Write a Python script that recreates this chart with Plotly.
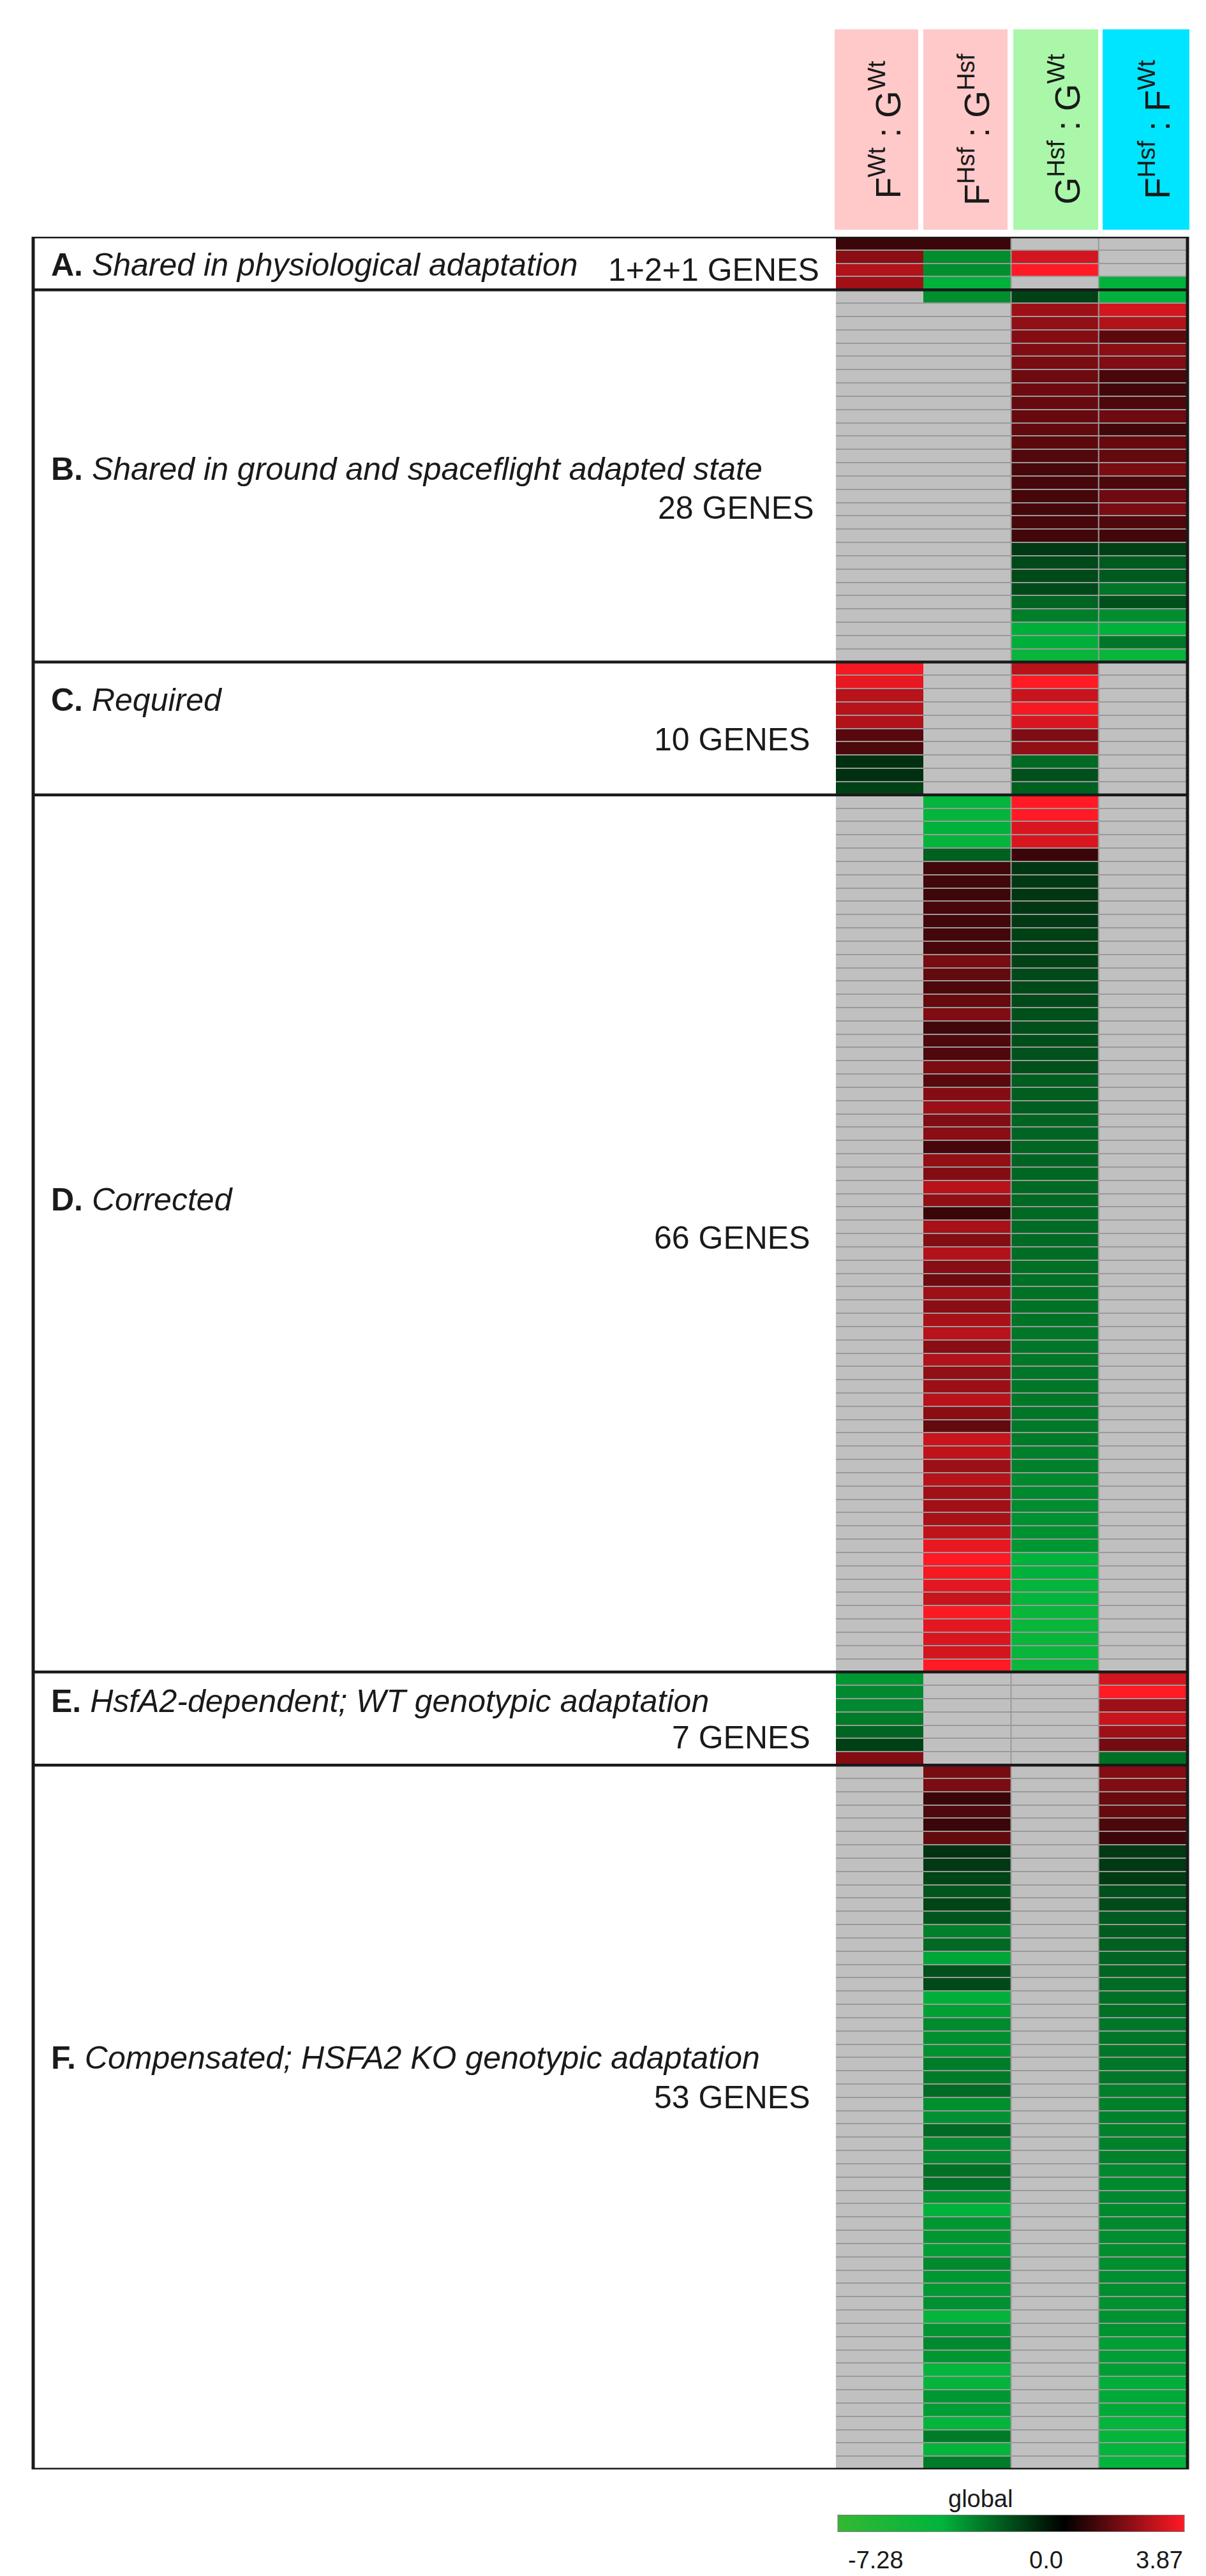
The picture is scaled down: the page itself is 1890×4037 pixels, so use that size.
import plotly.graph_objects as go

W, H = 1890, 4037

# column headers (contrasts)
col_labels = ["F<sup>Wt</sup> : G<sup>Wt</sup>",
              "F<sup>Hsf</sup> : G<sup>Hsf</sup>",
              "G<sup>Hsf</sup> : G<sup>Wt</sup>",
              "F<sup>Hsf</sup> : F<sup>Wt</sup>"]

# section labels
sec_letters = ["A.", "B.", "C.", "D.", "E.", "F."]
sec_titles = ["Shared in physiological adaptation",
              "Shared in ground and spaceflight adapted state",
              "Required",
              "Corrected",
              "HsfA2-dependent; WT genotypic adaptation",
              "Compensated; HSFA2 KO genotypic adaptation"]
sec_counts = ["1+2+1 GENES", "28 GENES", "10 GENES", "66 GENES", "7 GENES", "53 GENES"]

# log2 fold change per section, one list per column (None = not significant / grey)
a_fwt_gwt = [0.9, 2.1, 2.7, 2.45]
a_fhsf_ghsf = [0.9, -3.1, -3.1, -3.9]
a_ghsf_gwt = [None, 3.2, 3.87, None]
a_fhsf_fwt = [None, None, None, -3.9]

b_fwt_gwt = [None] * 28
b_fhsf_ghsf = [-3.1] + [None] * 27
b_ghsf_gwt = [-1.4, 2.4, 2.2, 2.0, 1.95, 1.85, 1.65, 1.65, 1.55, 1.55, 1.5, 1.4, 1.25, 1.1,
              1.1, 1.05, 1.05, 1.1, 1.0, -1.25, -1.6, -1.6, -1.62, -2.2, -2.75, -3.8, -3.8, -4.5]
b_fhsf_fwt = [-3.9, 3.2, 2.7, 1.4, 2.1, 1.95, 1.1, 1.0, 1.15, 1.65, 1.0, 1.55, 1.5, 1.85,
              1.15, 1.65, 1.85, 1.2, 1.0, -1.4, -2.0, -1.95, -2.6, -1.75, -3.1, -3.9, -2.6, -4.5]

c_fwt_gwt = [3.7, 3.5, 2.8, 2.8, 2.7, 1.35, 1.15, -1.05, -1.05, -1.4]
c_fhsf_ghsf = [None] * 10
c_ghsf_gwt = [2.8, 3.87, 3.05, 3.7, 3.3, 1.95, 2.2, -2.3, -1.75, -2.1]
c_fhsf_fwt = [None] * 10

d_fwt_gwt = [None] * 66
d_fhsf_ghsf = [-4.2, -4.2, -3.9, -4.2, -2.1, 1.0, 1.0, 0.95, 1.1, 1.0, 1.0, 1.1, 1.8, 1.5,
               1.15, 1.55, 1.95, 1.0, 1.2, 1.2, 1.85, 1.35, 2.0, 2.35, 1.95, 2.1, 1.05, 2.2,
               2.0, 2.8, 2.2, 0.9, 2.55, 2.0, 2.7, 2.05, 1.65, 2.4, 2.1, 2.55, 2.8, 2.1, 2.7,
               2.2, 2.35, 2.8, 2.1, 1.5, 3.05, 2.9, 2.35, 2.8, 2.45, 2.45, 2.55, 2.9, 3.5,
               3.87, 3.7, 3.45, 3.05, 3.8, 3.45, 3.3, 3.2, 3.87]
d_ghsf_gwt = [3.87, 3.87, 3.3, 3.3, 0.9, -1.2, -1.22, -1.18, -1.2, -1.25, -1.4, -1.4, -1.42,
              -1.6, -1.6, -1.62, -1.75, -1.75, -1.72, -1.78, -1.75, -2.05, -2.05, -2.08, -2.2,
              -2.2, -2.22, -2.2, -2.25, -2.3, -2.3, -2.32, -2.35, -2.35, -2.38, -2.45, -2.45,
              -2.5, -2.5, -2.52, -2.6, -2.6, -2.62, -2.6, -2.6, -2.62, -2.6, -2.65, -2.7, -2.8,
              -2.8, -3.0, -3.0, -3.05, -3.2, -3.2, -3.3, -3.9, -3.9, -4.2, -4.2, -4.5, -4.5,
              -4.5, -4.5, -4.8]
d_fhsf_fwt = [None] * 66

e_fwt_gwt = [-3.3, -3.0, -3.0, -2.7, -2.2, -1.4, 2.0]
e_fhsf_ghsf = [None] * 7
e_ghsf_gwt = [None] * 7
e_fhsf_fwt = [3.2, 3.87, 2.4, 3.05, 2.4, 1.75, -2.45]

f_fwt_gwt = [None] * 53
f_fhsf_ghsf = [1.8, 1.85, 0.9, 1.2, 0.9, 1.5, -1.1, -1.25, -1.5, -1.85, -1.5, -1.85, -2.8,
               -2.3, -3.6, -1.75, -1.6, -3.8, -3.5, -3.0, -3.15, -3.2, -2.7, -2.7, -2.35, -3.1,
               -3.2, -2.3, -3.0, -3.0, -2.45, -2.45, -3.3, -3.9, -3.3, -3.3, -3.45, -3.0, -3.3,
               -3.35, -3.2, -4.2, -3.3, -3.0, -3.3, -4.2, -4.2, -3.3, -3.45, -4.2, -2.7, -4.2,
               -2.7]
f_ghsf_gwt = [None] * 53
f_fhsf_fwt = [2.0, 1.95, 1.6, 1.55, 1.15, 0.95, -1.25, -1.25, -1.3, -1.75, -1.65, -2.0, -2.0,
              -2.1, -2.2, -2.2, -2.35, -2.45, -2.45, -2.6, -2.6, -2.6, -2.6, -2.62, -2.8, -2.8,
              -2.82, -2.85, -2.85, -2.85, -3.0, -3.0, -3.0, -3.02, -3.0, -3.1, -3.1, -3.1, -3.12,
              -3.1, -3.2, -3.2, -3.22, -3.45, -3.45, -3.45, -3.8, -3.7, -3.7, -4.2, -4.2, -4.2,
              -4.2]

sections = [
    (a_fwt_gwt, a_fhsf_ghsf, a_ghsf_gwt, a_fhsf_fwt),
    (b_fwt_gwt, b_fhsf_ghsf, b_ghsf_gwt, b_fhsf_fwt),
    (c_fwt_gwt, c_fhsf_ghsf, c_ghsf_gwt, c_fhsf_fwt),
    (d_fwt_gwt, d_fhsf_ghsf, d_ghsf_gwt, d_fhsf_fwt),
    (e_fwt_gwt, e_fhsf_ghsf, e_ghsf_gwt, e_fhsf_fwt),
    (f_fwt_gwt, f_fhsf_ghsf, f_ghsf_gwt, f_fhsf_fwt),
]

zmin, zmax = -7.28, 3.87


def px_x(x):
    return x / W


def px_y(y):
    return 1 - y / H


# build matrix
z = []
sec_sizes = []
for cols in sections:
    sec_sizes.append(len(cols[0]))
    for row in zip(*cols):
        z.append(list(row))
n_rows = len(z)
bg = [[0] * 4 for _ in z]

zero = (0 - zmin) / (zmax - zmin)
cscale = [[0.0, "#34b834"], [0.30, "#00b43c"], [zero, "#000000"], [1.0, "#ff1a25"]]

FONT = "Liberation Sans, Arial, sans-serif"

fig = go.Figure()
# grey background bricks for missing values
fig.add_trace(go.Heatmap(z=bg, x=list(range(4)), y=list(range(n_rows)),
                         colorscale=[[0, "#c0c0c0"], [1, "#c0c0c0"]],
                         showscale=False, ygap=2, hoverinfo="skip"))
fig.add_trace(go.Heatmap(
    z=z, x=list(range(4)), y=list(range(n_rows)),
    colorscale=cscale, zmin=zmin, zmax=zmax, ygap=2,
    colorbar=dict(orientation="h", x=px_x(1576), xanchor="center",
                  y=px_y(3947), yanchor="middle", len=543, lenmode="pixels",
                  thickness=26, xpad=0, ypad=0, showticklabels=False, ticks="",
                  outlinewidth=1, outlinecolor="#777777"),
))

shapes = []
# column separators (not between the first two columns)
for xs in (1.5, 2.5):
    shapes.append(dict(type="line", xref="x", yref="y", x0=xs, x1=xs, y0=-0.5,
                       y1=n_rows - 0.5, line=dict(color="#9a9a9a", width=2)))
# section dividers
edge = -0.5
bounds = []
for s in sec_sizes:
    edge += s
    bounds.append(edge)
for b in bounds[:-1]:
    shapes.append(dict(type="line", xref="paper", yref="y", x0=px_x(44), x1=px_x(1855),
                       y0=b, y1=b, line=dict(color="#1a1a1a", width=4.5)))
# outer frame
shapes.append(dict(type="rect", xref="paper", yref="y", x0=px_x(44), x1=px_x(1853),
                   y0=-0.5, y1=n_rows - 0.5, line=dict(color="#1a1a1a", width=5)))

# header boxes
box_x = [(1300, 1431), (1439, 1571), (1580, 1713), (1720, 1856)]
box_fill = ["#ffc9c9", "#ffc9c9", "#aaf7aa", "#00e5ff"]
annotations = []
for (x0, x1), fill, lab in zip(box_x, box_fill, col_labels):
    shapes.append(dict(type="rect", xref="paper", yref="paper", x0=px_x(x0), x1=px_x(x1),
                       y0=px_y(352), y1=px_y(38), fillcolor=fill, line=dict(width=0),
                       layer="below"))
    annotations.append(dict(xref="paper", yref="paper", x=px_x((x0 + x1) / 2 + 14), y=px_y(195),
                            xanchor="center", yanchor="middle",
                            text=lab, textangle=-90, showarrow=False,
                            font=dict(family=FONT, size=55, color="#1a1a1a")))

# section labels
title_y = [407, 727, 1089, 1872, 2658, 3217]
count_y = [415, 788, 1151, 1932, 2715, 3279]
count_right = [1278, 1270, 1264, 1264, 1264, 1264]
for letter, title, count, ty, cy, cr in zip(sec_letters, sec_titles, sec_counts,
                                            title_y, count_y, count_right):
    annotations.append(dict(xref="paper", yref="paper", x=px_x(70), y=px_y(ty),
                            xanchor="left", yanchor="middle", showarrow=False,
                            text=f"<b>{letter}</b> <i>{title}</i>",
                            font=dict(family=FONT, size=50, color="#1a1a1a")))
    annotations.append(dict(xref="paper", yref="paper", x=px_x(cr), y=px_y(cy),
                            xanchor="right", yanchor="middle", showarrow=False,
                            text=count, font=dict(family=FONT, size=50, color="#1a1a1a")))

# colour bar labels
cb_x0, cb_x1 = 1305, 1848
annotations.append(dict(xref="paper", yref="paper", x=px_x(1581), y=px_y(3908),
                        yanchor="middle", text="global", showarrow=False,
                        font=dict(family=FONT, size=38, color="#1a1a1a")))
annotations.append(dict(xref="paper", yref="paper", x=px_x(cb_x0 + 14), y=px_y(4004),
                        xanchor="left", yanchor="middle", text=f"{zmin:.2f}",
                        showarrow=False, font=dict(family=FONT, size=38, color="#1a1a1a")))
annotations.append(dict(xref="paper", yref="paper", x=px_x(cb_x0 + zero * (cb_x1 - cb_x0)),
                        y=px_y(4004), yanchor="middle", text="0.0", showarrow=False,
                        font=dict(family=FONT, size=38, color="#1a1a1a")))
annotations.append(dict(xref="paper", yref="paper", x=px_x(cb_x1), y=px_y(4004),
                        xanchor="right", yanchor="middle", text=f"{zmax:.2f}",
                        showarrow=False, font=dict(family=FONT, size=38, color="#1a1a1a")))

fig.update_layout(
    width=W, height=H,
    margin=dict(l=0, r=0, t=0, b=0),
    paper_bgcolor="white",
    plot_bgcolor="#9a9a9a",
    shapes=shapes,
    annotations=annotations,
    xaxis=dict(domain=[px_x(1302), px_x(1851)], range=[-0.5, 3.5], visible=False,
               fixedrange=True),
    yaxis=dict(domain=[px_y(3862), px_y(363)], range=[n_rows - 0.5, -0.5], visible=False,
               fixedrange=True),
    showlegend=False,
)

fig.write_html("out.html")
